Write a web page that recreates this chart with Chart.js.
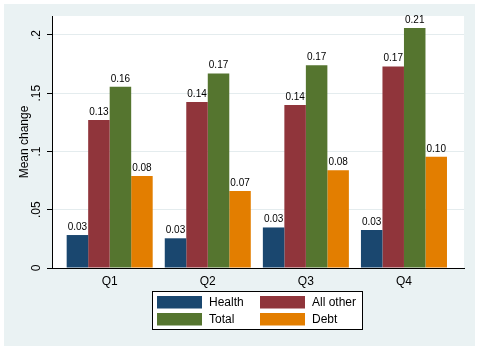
<!DOCTYPE html>
<html><head><meta charset="utf-8">
<script src="https://cdn.jsdelivr.net/npm/chart.js@4/dist/chart.umd.min.js"></script>
<style>html,body{margin:0;padding:0;background:#fff;}canvas{display:block;}</style>
</head><body>
<canvas id="c" width="480" height="351"></canvas>
<script>
const categories = ['Q1', 'Q2', 'Q3', 'Q4'];
const seriesNames = ['Health', 'All other', 'Total', 'Debt'];
const health   = [0.0283, 0.0255, 0.0348, 0.0326];
const allOther = [0.127, 0.1425, 0.140, 0.173];
const total    = [0.1555, 0.167, 0.174, 0.206];
const debt     = [0.079, 0.066, 0.0839, 0.0955];
const yTicks = [0, 0.05, 0.1, 0.15, 0.2];
const yTickLabels = ['0', '.05', '.1', '.15', '.2'];
const yTitle = 'Mean change';

const colors = ['#1a476f', '#90353b', '#55752f', '#e37e00'];
const FONT = "'Liberation Sans', Arial, sans-serif";
Chart.defaults.font.family = FONT;
Chart.defaults.color = '#000';

const seriesValues = [health, allOther, total, debt];
const datasets = seriesValues.map((vals, s) => ({
  label: seriesNames[s],
  data: vals.map((v, i) => ({x: i, y: v})),
  backgroundColor: colors[s],
  borderWidth: 0,
  categoryPercentage: 0.877,
  barPercentage: 1.0
}));

const bgPlugin = {
  id: 'bg',
  beforeDraw(chart) {
    const {ctx, chartArea: a} = chart;
    ctx.save();
    ctx.fillStyle = '#fff';
    ctx.fillRect(0, 0, chart.width, chart.height);
    ctx.fillStyle = '#eaf2f3';
    ctx.fillRect(4, 4, 471, 342);
    ctx.fillStyle = '#fff';
    ctx.fillRect(a.left, a.top, a.right - a.left, a.bottom - a.top);
    ctx.restore();
  }
};

const valueLabels = {
  id: 'valueLabels',
  afterDatasetsDraw(chart) {
    const ctx = chart.ctx;
    ctx.save();
    ctx.font = '10px ' + FONT;
    ctx.fillStyle = '#000';
    ctx.textAlign = 'center';
    ctx.textBaseline = 'alphabetic';
    chart.data.datasets.forEach((ds, di) => {
      const meta = chart.getDatasetMeta(di);
      meta.data.forEach((bar, i) => {
        ctx.fillText(ds.data[i].y.toFixed(2), bar.x, bar.y - 5);
      });
    });
    ctx.restore();
  }
};

const boxLegend = {
  id: 'boxLegend',
  afterDraw(chart) {
    const ctx = chart.ctx;
    ctx.save();
    ctx.fillStyle = '#fff';
    ctx.fillRect(152, 291, 210, 39);
    ctx.strokeStyle = '#000';
    ctx.lineWidth = 1;
    ctx.strokeRect(152.5, 291.5, 210, 38);
    const colX = [157, 260];
    const rowY = [296, 313];
    ctx.font = '12px ' + FONT;
    ctx.textAlign = 'left';
    ctx.textBaseline = 'middle';
    chart.data.datasets.forEach((ds, i) => {
      const cx = colX[i % 2], cy = rowY[Math.floor(i / 2)];
      ctx.fillStyle = ds.backgroundColor;
      ctx.fillRect(cx, cy, 45, 12.5);
      ctx.fillStyle = '#000';
      ctx.fillText(ds.label, cx + 52, cy + 7);
    });
    ctx.restore();
  }
};

new Chart(document.getElementById('c'), {
  type: 'bar',
  data: { datasets },
  plugins: [bgPlugin, valueLabels, boxLegend],
  options: {
    responsive: false,
    animation: false,
    devicePixelRatio: 1,
    layout: { padding: { left: 0, top: 16, right: 16, bottom: 0 } },
    plugins: { legend: { display: false }, tooltip: { enabled: false } },
    scales: {
      x: {
        type: 'linear',
        offset: false,
        min: -0.588,
        max: 3.612,
        afterBuildTicks(scale) { scale.ticks = categories.map((c, i) => ({value: i})); },
        afterFit(scale) { scale.height = 83; },
        grid: { display: false, drawTicks: false, offset: false },
        border: { display: true, color: '#000', width: 1 },
        ticks: {
          padding: 6,
          font: { size: 12 },
          color: '#000',
          maxRotation: 0,
          autoSkip: false,
          callback: (v) => categories[v]
        }
      },
      y: {
        type: 'linear',
        min: 0,
        max: 0.2163,
        afterBuildTicks(scale) { scale.ticks = yTicks.map(v => ({value: v})); },
        afterFit(scale) { scale.width = 52; },
        grid: {
          color: (c) => (c.tick && c.tick.value === 0) ? 'rgba(0,0,0,0)' : '#e4ecee',
          lineWidth: 1,
          tickLength: 5,
          tickColor: '#000'
        },
        border: { display: true, color: '#000', width: 1 },
        title: { display: true, text: yTitle, font: { size: 12 }, color: '#000', padding: { top: 17, bottom: 0 } },
        ticks: {
          minRotation: 90,
          maxRotation: 90,
          crossAlign: 'center',
          padding: 2,
          font: { size: 12 },
          color: '#000',
          autoSkip: false,
          callback: (v, i) => yTickLabels[i]
        }
      }
    }
  }
});
</script>
</body></html>
